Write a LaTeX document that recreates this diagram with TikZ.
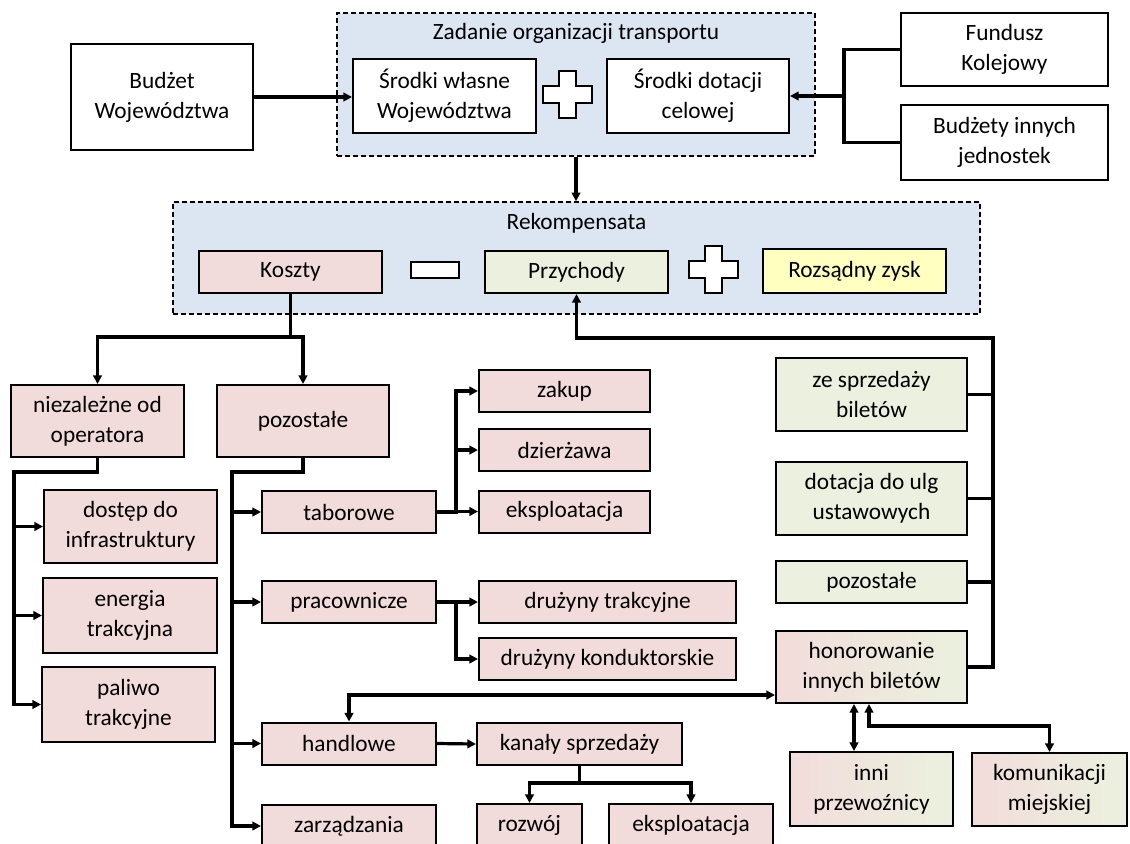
\documentclass[tikz,border=0pt]{standalone}
\usepackage{fontspec}
\setmainfont{Carlito}
\usetikzlibrary{arrows.meta}
\definecolor{grpblue}{HTML}{DCE6F2}
\definecolor{costpink}{HTML}{F2DCDB}
\definecolor{incgreen}{HTML}{EBF1DE}
\definecolor{profyel}{HTML}{FFFFC0}
\tikzset{
 box/.style={draw, line width=1.5pt, align=center, inner sep=0pt},
 sz/.style 2 args={minimum width=#1*0.75pt, minimum height=#2*0.75pt},
 wbox/.style={box, fill=white},
 cost/.style={box, fill=costpink},
 inc/.style={box, fill=incgreen},
 mixed/.style={box, left color=costpink, right color=incgreen},
 grp/.style={draw, line width=1.2pt, dash pattern=on 3.6pt off 2.4pt, fill=grpblue, inner sep=0pt},
 ttl/.style={inner sep=0pt},
 conn/.style={line width=2.4pt},
 arr/.style={conn, -{Triangle[length=6.5pt,width=6.5pt]}},
 arrs/.style={conn, {Triangle[length=6.5pt,width=6.5pt]}-{Triangle[length=6.5pt,width=6.5pt]}},
 opsign/.style={draw, line width=1.5pt, fill=white, inner sep=0pt},
 plusmark/.pic={\draw[opsign] (-8.5,-23.5) -- (8.5,-23.5) -- (8.5,-8.5) -- (24.5,-8.5) -- (24.5,8.5) -- (8.5,8.5) -- (8.5,23.5) -- (-8.5,23.5) -- (-8.5,8.5) -- (-24.5,8.5) -- (-24.5,-8.5) -- (-8.5,-8.5) -- cycle;}
}
\begin{document}
\begin{tikzpicture}[x=0.75pt,y=-0.75pt,font=\fontsize{17.5}{22.5}\selectfont]
\useasboundingbox (0,0) rectangle (1130,843);
% grupy
\node[grp,sz={478}{143}] (zad) at (576,84.5) {};
\node[ttl] (zadt) at (576,33) {Zadanie organizacji transportu};
\node[grp,sz={807}{112}] (rek) at (576.5,258) {};
\node[ttl] (rekt) at (576.5,223) {Rekompensata};
% finansowanie
\node[wbox,sz={182}{106}] (bud) at (162,97) {Budżet\\Województwa};
\node[wbox,sz={183}{74}] (srw) at (444.5,96) {Środki własne\\Województwa};
\node[wbox,sz={182}{74}] (srd) at (698,96) {Środki dotacji\\celowej};
\node[wbox,sz={207}{73}] (fun) at (1004.5,49.5) {Fundusz\\Kolejowy};
\node[wbox,sz={207}{75}] (bji) at (1004.5,142.5) {Budżety innych\\jednostek};
\pic at (567.5,94) {plusmark};
% rekompensata
\node[cost,sz={183}{42}] (kos) at (290.5,272) {Koszty};
\node[opsign,sz={48}{16}] (minus) at (435,270) {};
\node[inc,sz={183}{42}] (prz) at (576.5,272) {Przychody};
\pic at (713.5,269.5) {plusmark};
\node[box,fill=profyel,sz={183}{44}] (zys) at (854.5,271) {Rozsądny zysk};
% koszty
\node[cost,sz={173}{72}] (niez) at (97.5,421) {niezależne od\\operatora};
\node[cost,sz={172}{72}] (poz) at (303,421) {pozostałe};
\node[cost,sz={173}{73}] (dost) at (130.5,526.5) {dostęp do\\infrastruktury};
\node[cost,sz={174}{75}] (ener) at (130,615.5) {energia\\trakcyjna};
\node[cost,sz={173}{75}] (pal) at (128.5,704.5) {paliwo\\trakcyjne};
\node[cost,sz={174}{42}] (tab) at (349,512) {taborowe};
\node[cost,sz={174}{42}] (prac) at (349,602) {pracownicze};
\node[cost,sz={174}{42}] (hand) at (349,743.5) {handlowe};
\node[cost,sz={174}{42}] (zarz) at (349,826) {zarządzania};
\node[cost,sz={171}{42}] (zak) at (564.5,391) {zakup};
\node[cost,sz={171}{42}] (dzi) at (564.5,450) {dzierżawa};
\node[cost,sz={171}{42}] (eks) at (564.5,511.5) {eksploatacja};
\node[cost,sz={257}{42}] (dtr) at (607.5,602) {drużyny trakcyjne};
\node[cost,sz={257}{42}] (dko) at (607.5,659) {drużyny konduktorskie};
\node[cost,sz={205}{42}] (kan) at (579.5,744) {kanały sprzedaży};
\node[cost,sz={105}{42}] (roz) at (529.5,825) {rozwój};
\node[cost,sz={164}{42}] (eksb) at (691,825) {eksploatacja};
% przychody
\node[inc,sz={191}{73}] (zes) at (871.5,394.5) {ze sprzedaży\\biletów};
\node[inc,sz={191}{73}] (dot) at (871.5,498.5) {dotacja do ulg\\ustawowych};
\node[inc,sz={191}{42}] (pzi) at (871.5,582) {pozostałe};
\node[mixed,sz={191}{72}] (hon) at (871.5,667) {honorowanie\\innych biletów};
\node[mixed,sz={163}{74}] (inni) at (871.5,789) {inni\\przewoźnicy};
\node[mixed,sz={155}{73}] (kom) at (1049.5,789.5) {komunikacji\\miejskiej};
% polaczenia
\draw[arr] (bud.east) -- (bud.east -| srw.west);
\coordinate (fk) at (844,96);
\draw[conn] (fun.west) -| (fk) |- (bji.west);
\draw[arr] (fk) -- (srd.east);
\draw[arr] (zad.south) -- (zad.south |- rek.north);
\coordinate (kj) at (290.5,337);
\draw[arr] (kos.south) -- (kj) -| (niez.north);
\draw[arr] (kj) -| (poz.north);
\coordinate (nj) at (14,472);
\draw[arr] (niez.south) |- (nj) |- (pal.west);
\draw[arr] (nj) |- (dost.west);
\draw[arr] (nj) |- (ener.west);
\coordinate (pj) at (232,472);
\draw[arr] (poz.south) |- (pj) |- (zarz.west);
\draw[arr] (pj) |- (tab.west);
\draw[arr] (pj) |- (prac.west);
\draw[arr] (pj) |- (hand.west);
\coordinate (tj) at (456,512);
\draw[arr] (tab.east) -- (tj) |- (zak.west);
\draw[arr] (tj) |- (dzi.west);
\draw[arr] (tj) |- (eks.west);
\coordinate (rj) at (456,602);
\draw[arr] (prac.east) -- (rj) |- (dko.west);
\draw[arr] (rj) -- (dtr.west);
\draw[arr] (hand.east) -- (kan.west);
\coordinate (sj) at (579.5,783);
\draw[arr] (kan.south) -- (sj) -| (roz.north);
\draw[arr] (sj) -| (eksb.north);
\coordinate (rv) at (993,338);
\draw[arr] (hon.east) -| (rv) -| (prz.south);
\draw[conn] (zes.east) -- (zes.east -| rv);
\draw[conn] (dot.east) -- (dot.east -| rv);
\draw[conn] (pzi.east) -- (pzi.east -| rv);
\coordinate (hj) at (349,695);
\draw[arrs] (hand.north) -- (hj) -- (hj -| hon.west);
\coordinate (ij) at (854,720);
\draw[arrs] (ij |- hon.south) -- (ij |- inni.north);
\coordinate (mj) at (869,726);
\draw[arrs] (mj |- hon.south) -- (mj) -| (kom.north);
\end{tikzpicture}
\end{document}
